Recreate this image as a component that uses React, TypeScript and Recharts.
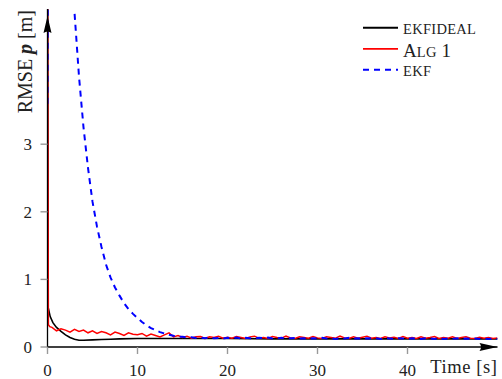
import React from 'react'
import {
  LineChart,
  Line,
  XAxis,
  YAxis,
  Legend,
  Label,
  ReferenceDot,
} from 'recharts'

const FONT = '"Liberation Serif", "DejaVu Serif", serif'

// sample grid (s) shared by Alg 1 and EKF
const GRID = [
  0.5, 1, 1.5, 2, 2.5, 3, 3.5, 4, 4.5, 5,
  5.5, 6, 6.5, 7, 7.5, 8, 8.5, 9, 9.5, 10,
  10.5, 11, 11.5, 12, 12.5, 13, 13.5, 14, 14.5, 15,
  15.5, 16, 16.5, 17, 17.5, 18, 18.5, 19, 19.5, 20,
  20.5, 21, 21.5, 22, 22.5, 23, 23.5, 24, 24.5, 25,
  25.5, 26, 26.5, 27, 27.5, 28, 28.5, 29, 29.5, 30,
  30.5, 31, 31.5, 32, 32.5, 33, 33.5, 34, 34.5, 35,
  35.5, 36, 36.5, 37, 37.5, 38, 38.5, 39, 39.5, 40,
  40.5, 41, 41.5, 42, 42.5, 43, 43.5, 44, 44.5, 45,
  45.5, 46, 46.5, 47, 47.5, 48, 48.5, 49, 49.5, 50,
]

// legend order
const SERIES_NAMES = ['ekfideal', 'Alg 1', 'ekf']

// EKFIDEAL (black)
const EKFIDEAL_T = [0, 0.08, 0.3, 0.6, 1, 1.5, 2, 2.5, 3, 3.5, 4, 5, 6, 7, 8, 10, 12, 15, 20, 25, 30, 35, 40, 45, 50]
const EKFIDEAL_V = [6, 0.58, 0.45, 0.36, 0.29, 0.23, 0.18, 0.14, 0.115, 0.1, 0.1, 0.105, 0.11, 0.115, 0.12, 0.125, 0.125, 0.125, 0.125, 0.12, 0.12, 0.12, 0.12, 0.12, 0.12]

// Alg 1 (red, noisy)
const ALG1_T = [0, 0.1, 0.25, ...GRID]
const ALG1_V = [
  6, 0.33, 0.3,
  0.29, 0.24, 0.27, 0.25, 0.22, 0.26, 0.23, 0.25, 0.21, 0.24,
  0.2, 0.23, 0.21, 0.18, 0.22, 0.2, 0.17, 0.21, 0.19, 0.18,
  0.2, 0.16, 0.19, 0.17, 0.15, 0.18, 0.21, 0.15, 0.17, 0.14,
  0.16, 0.13, 0.15, 0.155, 0.125, 0.15, 0.14, 0.16, 0.13, 0.145,
  0.13, 0.155, 0.14, 0.125, 0.15, 0.16, 0.13, 0.14, 0.125, 0.155,
  0.14, 0.13, 0.16, 0.135, 0.125, 0.15, 0.14, 0.13, 0.155, 0.135,
  0.125, 0.15, 0.14, 0.13, 0.16, 0.135, 0.125, 0.15, 0.13, 0.145,
  0.16, 0.13, 0.14, 0.125, 0.15, 0.135, 0.145, 0.125, 0.155, 0.13,
  0.14, 0.125, 0.15, 0.13, 0.14, 0.155, 0.125, 0.14, 0.13, 0.15,
  0.125, 0.14, 0.15, 0.13, 0.125, 0.145, 0.13, 0.14, 0.125, 0.135,
]

// EKF (blue dashed)
const EKF_T = [0, 0.15, ...GRID]
const EKF_V = [
  3.6, 10.5,
  10.5, 10, 9, 7.6, 6.2, 4.95, 4.0, 3.25, 2.65, 2.15,
  1.78, 1.48, 1.22, 1.03, 0.88, 0.76, 0.65, 0.56, 0.49, 0.43,
  0.37, 0.32, 0.28, 0.25, 0.22, 0.2, 0.18, 0.165, 0.155, 0.15,
  0.14, 0.145, 0.135, 0.14, 0.13, 0.14, 0.13, 0.135, 0.125, 0.135,
  0.13, 0.14, 0.125, 0.135, 0.13, 0.125, 0.135, 0.13, 0.14, 0.125,
  0.13, 0.135, 0.125, 0.13, 0.135, 0.125, 0.13, 0.12, 0.13, 0.125,
  0.135, 0.125, 0.13, 0.12, 0.13, 0.125, 0.135, 0.125, 0.13, 0.12,
  0.13, 0.125, 0.13, 0.12, 0.13, 0.125, 0.12, 0.13, 0.125, 0.12,
  0.13, 0.125, 0.12, 0.13, 0.125, 0.12, 0.13, 0.12, 0.125, 0.12,
  0.13, 0.12, 0.125, 0.12, 0.125, 0.12, 0.125, 0.12, 0.125, 0.12,
]

const X_TICKS = [0, 10, 20, 30, 40]
const Y_TICKS = [0, 1, 2, 3]

const zip = (ts: number[], vs: number[]) => ts.map((t, i) => ({ t, v: vs[i] }))

const ekfIdeal = zip(EKFIDEAL_T, EKFIDEAL_V)
const alg1 = zip(ALG1_T, ALG1_V)
const ekf = zip(EKF_T, EKF_V)

// small caps: lowercase runs drawn as smaller capitals
const smallCaps = (name: string) =>
  (name.match(/[a-z]+|[^a-z]+/g) || []).map((run, i) =>
    /[a-z]/.test(run) ? (
      <tspan key={i} fontSize={14.5} letterSpacing={0.3}>{run.toUpperCase()}</tspan>
    ) : (
      <tspan key={i} fontSize={19}>{run}</tspan>
    )
  )

const renderLegend = (props: any) => {
  const payload = [...(props.payload || [])].sort(
    (a: any, b: any) => SERIES_NAMES.indexOf(a.value) - SERIES_NAMES.indexOf(b.value)
  )
  let base = 14
  return (
    <svg width={147} height={70} style={{ overflow: 'visible' }}>
      {payload.map((e: any, i: number) => {
        const big = /[A-Z0-9]/.test(e.value)
        const capH = big ? 13 : 9.5
        if (i > 0) base += 9.8 + capH
        const ly = base - capH / 2 - 1.5
        const dash = e.payload?.strokeDasharray
        return (
          <g key={e.value}>
            <line x1={8} x2={43} y1={ly} y2={ly} stroke={e.color} strokeWidth={dash ? 2 : 1.8} strokeDasharray={dash} />
            <text x={48} y={base} fill="#222" fontFamily={FONT}>{smallCaps(e.value)}</text>
          </g>
        )
      })}
    </svg>
  )
}

const YTitle = (props: any) => {
  const vb = props.viewBox || { x: 0, y: 9 }
  return (
    <text
      transform={`translate(${vb.x + 32}, ${vb.y + 1}) rotate(-90)`}
      textAnchor="end"
      fill="#222"
      fontFamily={FONT}
      fontSize={20}
    >
      RMSE <tspan fontStyle="italic" fontWeight="bold">p</tspan> [m]
    </text>
  )
}

const XTitle = (props: any) => {
  const vb = props.viewBox || { x: 47.5, y: 347, width: 450 }
  return (
    <text x={vb.x + vb.width} y={vb.y + 26} textAnchor="end" fill="#222" fontFamily={FONT} fontSize={18.5} letterSpacing={0.6}>
      Time [s]
    </text>
  )
}

const arrowRight = (p: any) => (
  <path d={`M${p.cx},${p.cy} L${p.cx - 18},${p.cy - 4} Q${p.cx - 15},${p.cy} ${p.cx - 18},${p.cy + 4} Z`} fill="#000" />
)

const arrowUp = (p: any) => {
  const tip = p.cy + 7
  return <path d={`M${p.cx},${tip} L${p.cx - 4},${tip + 17} Q${p.cx},${tip + 14} ${p.cx + 4},${tip + 17} Z`} fill="#000" />
}

export default function App() {
  return (
    <div style={{ position: 'absolute', left: 0, top: 0, width: 502, height: 379, background: '#fff' }}>
      <LineChart width={502} height={379} margin={{ top: 9, right: 4.5, bottom: 0, left: 0 }}>
        <XAxis
          type="number"
          dataKey="t"
          domain={[0, 50]}
          ticks={X_TICKS}
          allowDataOverflow
          height={32}
          tickSize={7}
          tickMargin={10}
          axisLine={{ stroke: '#000', strokeWidth: 1.3 }}
          tickLine={{ stroke: '#999', strokeWidth: 1.4 }}
          tick={{ fill: '#222', fontSize: 17, fontFamily: FONT }}
        >
          <Label content={<XTitle />} />
        </XAxis>
        <YAxis
          type="number"
          domain={[0, 5]}
          ticks={Y_TICKS}
          allowDataOverflow
          width={47.5}
          tickSize={7}
          tickMargin={8.5}
          axisLine={{ stroke: '#000', strokeWidth: 1.3 }}
          tickLine={{ stroke: '#999', strokeWidth: 1.4 }}
          tick={{ fill: '#222', fontSize: 17, fontFamily: FONT }}
        >
          <Label content={<YTitle />} />
        </YAxis>
        <Legend
          layout="vertical"
          align="center"
          verticalAlign="middle"
          wrapperStyle={{ left: 355, top: 20, width: 147, height: 70 }}
          content={renderLegend}
        />
        <Line
          data={ekfIdeal}
          dataKey="v"
          name="ekfideal"
          stroke="#000"
          strokeWidth={1.6}
          dot={false}
          type="linear"
          legendType="line"
          isAnimationActive={false}
        />
        <Line
          data={alg1}
          dataKey="v"
          name="Alg 1"
          stroke="#ff0000"
          strokeWidth={1.5}
          dot={false}
          type="linear"
          legendType="line"
          isAnimationActive={false}
        />
        <Line
          data={ekf}
          dataKey="v"
          name="ekf"
          stroke="#0000ff"
          strokeWidth={2}
          strokeDasharray="6 5"
          dot={false}
          type="linear"
          legendType="line"
          isAnimationActive={false}
        />
        <ReferenceDot x={50} y={0} ifOverflow="visible" shape={arrowRight} />
        <ReferenceDot x={0} y={5} ifOverflow="visible" shape={arrowUp} />
      </LineChart>
    </div>
  )
}
